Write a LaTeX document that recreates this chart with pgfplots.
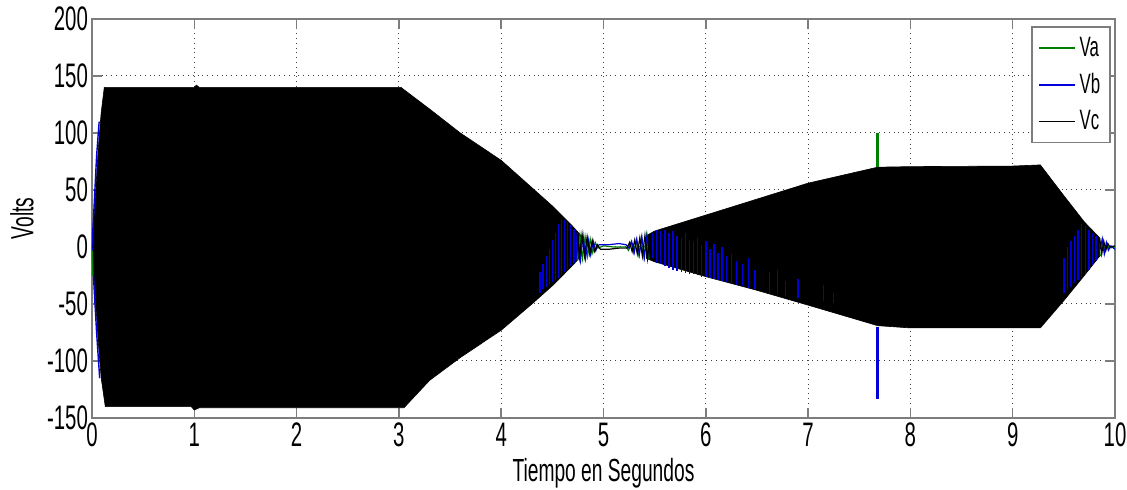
\documentclass[border=0pt]{standalone}
\usepackage{fontspec}
\setmainfont{Liberation Sans}[FakeStretch=0.6]
\usepackage{pgfplots}
\pgfplotsset{compat=1.18}
\usetikzlibrary{calc}
\definecolor{va}{RGB}{0,128,0}
\definecolor{vb}{RGB}{0,0,215}
\definecolor{frame}{RGB}{125,125,125}

\begin{document}
\begin{tikzpicture}
\begin{axis}[
  scale only axis, width=511.5pt, height=199.5pt,
  xmin=0, xmax=10, ymin=-150, ymax=200,
  xtick={0,1,...,10}, ytick={-150,-100,...,200},
  /pgf/number format/assume math mode=true,
  tick label style={font=\fontsize{17}{20}\selectfont},
  label style={font=\fontsize{16}{19}\selectfont},
  xticklabel style={yshift=1pt},
  yticklabel style={xshift=1.5pt},
  axis line style={frame, line width=0.75pt},
  tick style={frame, line width=0.75pt},
  major tick length=5pt, tick align=inside,
  grid=major, major grid style={black!75, dotted, line width=0.5pt},
  xlabel={Tiempo en Segundos}, ylabel={Volts},
  xlabel style={at={(axis description cs:0.5,0)}, anchor=base, yshift=-32pt},
  ylabel style={at={(axis description cs:-0.0684,0.5)}, anchor=center},
  unbounded coords=jump,
  legend style={at={(rel axis cs:0.996,0.982)}, anchor=north east,
    draw=frame, line width=0.75pt, font=\fontsize{14}{16}\selectfont,
    row sep=3pt, inner sep=3pt, cells={anchor=west}},
  legend image code/.code={\draw[#1, line width=0.8pt] (0pt,0pt) -- (18pt,0pt);},
]

% envelope of the dense three-phase oscillation, first run (0 - 4.8 s)
\addplot[fill=black, draw=black, line width=0.3pt, forget plot] coordinates {
  (0,0) (0.03,40) (0.06,85) (0.09,118) (0.12,140) (1.0,140) (1.02,142)
  (1.05,140) (3.02,140) (3.3,121) (3.6,100) (4.0,76) (4.3,52) (4.5,36)
  (4.7,18) (4.78,10)
  (4.78,-8) (4.7,-16) (4.5,-34) (4.3,-50) (4.0,-73) (3.6,-97) (3.3,-117)
  (3.05,-141) (1.05,-141) (1.0,-143) (0.97,-140) (0.13,-140) (0.09,-115)
  (0.06,-82) (0.03,-40) (0,0)
} -- cycle;

% envelope, second run (5.4 - 9.9 s)
\addplot[fill=black, draw=black, line width=0.3pt, forget plot] coordinates {
  (5.42,10) (5.5,14) (6,28) (6.5,42) (7,56) (7.68,70) (8,70.5) (9,71)
  (9.27,72) (9.5,45) (9.7,22) (9.85,8)
  (9.85,-8) (9.7,-25) (9.5,-47) (9.27,-71) (8,-71) (7.68,-69) (7,-51)
  (6.5,-38) (6,-26) (5.5,-13) (5.42,-10)
} -- cycle;

% Vb showing through the Vc trace
\addplot[vb, line width=0.7pt, forget plot] coordinates {
  (4.38,-40)(4.38,-22)(4.38,nan)
  (4.41,-37)(4.41,-15)(4.41,nan)
  (4.44,-35)(4.44,-8)(4.44,nan)
  (4.47,-33)(4.47,-2)(4.47,nan)
  (4.50,-31)(4.50,6)(4.50,nan)
  (4.53,-29)(4.53,12)(4.53,nan)
  (4.56,-27)(4.56,20)(4.56,nan)
  (4.59,-25)(4.59,24)(4.59,nan)
  (4.62,-22)(4.62,24)(4.62,nan)
  (4.65,-19)(4.65,22)(4.65,nan)
  (4.68,-17)(4.68,19)(4.68,nan)
  (4.71,-14)(4.71,16)(4.71,nan)
  (4.74,-11)(4.74,13)(4.74,nan)
  (5.48,-10)(5.48,12)(5.48,nan)
  (5.52,-14)(5.52,15)(5.52,nan)
  (5.56,-15)(5.56,14)(5.56,nan)
  (5.60,-17)(5.60,15)(5.60,nan)
  (5.64,-18)(5.64,12)(5.64,nan)
  (5.68,-20)(5.68,14)(5.68,nan)
  (5.72,-21)(5.72,10)(5.72,nan)
  (5.76,-22)(5.76,8)(5.76,nan)
  (5.80,-23)(5.80,12)(5.80,nan)
  (5.84,-24)(5.84,6)(5.84,nan)
  (5.88,-24)(5.88,4)(5.88,nan)
  (5.92,-25)(5.92,8)(5.92,nan)
  (5.96,-26)(5.96,2)(5.96,nan)
  (6.00,-26)(6.00,5)(6.00,nan)
  (6.04,-27)(6.04,-2)(6.04,nan)
  (6.08,-28)(6.08,3)(6.08,nan)
  (6.12,-29)(6.12,-5)(6.12,nan)
  (6.16,-30)(6.16,0)(6.16,nan)
  (6.20,-31)(6.20,-8)(6.20,nan)
  (6.25,-32)(6.25,-6)(6.25,nan)
  (6.30,-33)(6.30,-12)(6.30,nan)
  (6.36,-34)(6.36,-15)(6.36,nan)
  (6.42,-36)(6.42,-10)(6.42,nan)
  (6.48,-37)(6.48,-20)(6.48,nan)
  (6.62,-40)(6.62,-22)(6.62,nan)
  (6.70,-41)(6.70,-20)(6.70,nan)
  (6.78,-43)(6.78,-30)(6.78,nan)
  (6.90,-45)(6.90,-28)(6.90,nan)
  (7.15,-47)(7.15,-33)(7.15,nan)
  (7.25,-49)(7.25,-40)(7.25,nan)
  (9.500,-40)(9.500,-10)(9.500,nan)
  (9.535,-38)(9.535,0)(9.535,nan)
  (9.570,-35)(9.570,5)(9.570,nan)
  (9.605,-32)(9.605,10)(9.605,nan)
  (9.640,-29)(9.640,15)(9.640,nan)
  (9.675,-26)(9.675,20)(9.675,nan)
  (9.710,-23)(9.710,18)(9.710,nan)
  (9.745,-20)(9.745,15)(9.745,nan)
  (9.780,-16)(9.780,12)(9.780,nan)
  (9.815,-12)(9.815,10)(9.815,nan)
  (9.850,-8)(9.850,8)
};

% start-up edge
\addplot[vb, line width=0.7pt, forget plot] coordinates {
  (0.07,110)(0.045,80)(0.02,35)(0.004,8)(0,0)(0.004,-8)(0.02,-35)(0.045,-75)(0.075,-115)};
\addplot[va, line width=0.7pt, forget plot] coordinates {(0.002,-3)(0.006,-25)};

% Va near the low-voltage intervals
\addplot[va, line width=0.6pt, forget plot] coordinates {
  (4.745,-12)(4.77,10)(4.795,-10)(4.82,9)(4.845,-8)(4.87,7)(4.895,-5)(4.92,4)
  (4.945,-1)(5.0,1)(5.1,0)(5.22,0)(5.245,-3)(5.27,4)(5.295,-5)(5.32,6)
  (5.345,-7)(5.37,8)(5.395,-9)(5.42,10)(5.445,-11)(5.445,nan)
  (9.86,-8)(9.88,6)(9.90,-5)(9.92,3)(9.94,-1)(10,0)};
% Vb near the low-voltage intervals
\addplot[vb, line width=0.6pt, forget plot] coordinates {
  (4.75,3)(4.775,-12)(4.80,10)(4.825,-10)(4.85,7)(4.875,-7)(4.90,5)(4.925,-3)
  (4.94,1)(4.96,2)(5.05,2)(5.15,3)(5.22,2)(5.25,-1)(5.275,5)(5.30,-5)
  (5.325,7)(5.35,-7)(5.375,9)(5.40,-9)(5.425,10)(5.45,-10)(5.45,nan)
  (9.855,-2)(9.875,7)(9.895,-6)(9.915,4)(9.935,-3)(9.96,1)(10,-2)};
% Vc near the low-voltage intervals
\addplot[black, line width=0.6pt, forget plot] coordinates {
  (4.74,14)(4.765,-9)(4.79,11)(4.815,-8)(4.84,9)(4.865,-6)(4.89,6)(4.915,-4)
  (4.94,2)(4.97,-2)(5.05,-2)(5.15,-1)(5.23,-1)(5.255,4)(5.28,-4)(5.305,6)
  (5.33,-6)(5.355,8)(5.38,-8)(5.405,10)(5.43,-10)(5.455,11)(5.455,nan)
  (9.85,8)(9.87,-6)(9.89,5)(9.91,-3)(9.93,3)(9.95,0)(10,1)};

% transient at t = 7.68 s
\addplot[va, line width=1.3pt, forget plot] coordinates {(7.68,70)(7.68,100)};
\addplot[vb, line width=1.3pt, forget plot] coordinates {(7.68,-70)(7.68,-133)};

\addlegendimage{va}\addlegendentry{Va}
\addlegendimage{vb}\addlegendentry{Vb}
\addlegendimage{black}\addlegendentry{Vc}
\end{axis}
\pgfresetboundingbox
\path ($(current axis.south west)+(-46pt,-36pt)$) rectangle ($(current axis.north east)+(6pt,9.5pt)$);
\end{tikzpicture}
\end{document}
